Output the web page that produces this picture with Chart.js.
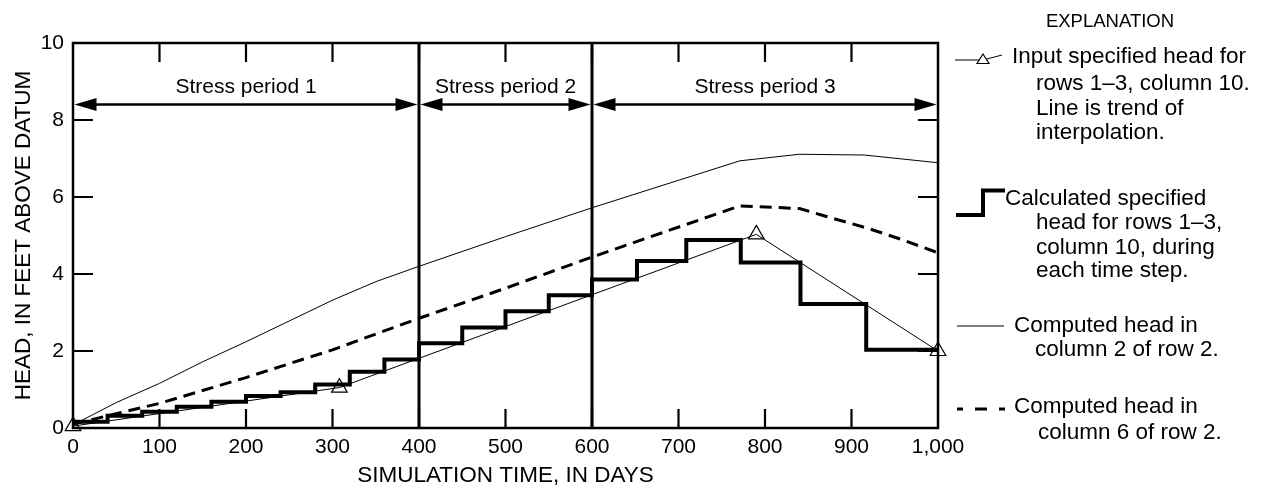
<!DOCTYPE html>
<html>
<head>
<meta charset="utf-8">
<script src="https://cdn.jsdelivr.net/npm/chart.js@4.4.1/dist/chart.umd.min.js"></script>
<style>
  html, body { margin: 0; padding: 0; background: #fff; }
  #wrap { width: 1263px; height: 495px; }
</style>
</head>
<body>
<div id="wrap"><canvas id="headChart" width="1263" height="495"></canvas></div>
<script>
// input specified head (triangles), joined by the trend line
const inputDays = [0, 308, 790, 1000];
const inputHead = [0.05, 1.05, 5.03, 2.0];

// calculated specified head, one value per time step (held until next time)
const stepDays = [0, 40, 80, 120, 160, 200, 240, 280, 320, 360, 400, 450, 500, 550, 600, 652, 709, 772, 841, 917, 1000];
const stepHead = [0.16, 0.32, 0.42, 0.55, 0.68, 0.83, 0.93, 1.13, 1.46, 1.78, 2.2, 2.61, 3.03, 3.45, 3.86, 4.34, 4.88, 4.3, 3.22, 2.03, 2.03];

// computed head, column 2 of row 2
const col2Days = [0, 50, 100, 150, 200, 250, 300, 350, 400, 500, 600, 771, 840, 915, 1000];
const col2Head = [0.08, 0.66, 1.16, 1.72, 2.24, 2.78, 3.32, 3.8, 4.2, 4.97, 5.72, 6.94, 7.11, 7.09, 6.89];

// computed head, column 6 of row 2
const col6Days = [0, 100, 200, 300, 400, 500, 600, 771, 840, 870, 920, 960, 1000];
const col6Head = [0.1, 0.64, 1.31, 2.03, 2.85, 3.63, 4.44, 5.77, 5.7, 5.5, 5.18, 4.88, 4.55];

const periodBounds = [0, 400, 600, 1000];
const periodLabels = ['Stress period 1', 'Stress period 2', 'Stress period 3'];
const xMinorTicks = [100, 200, 300, 400, 500, 600, 700, 800, 900];
const yMinorTicks = [2, 4, 6, 8];

const FONT = '"Liberation Sans", Arial, Helvetica, sans-serif';
Chart.defaults.font.family = FONT;
Chart.defaults.color = '#000';

const pts = (xs, ys) => xs.map((x, i) => ({ x, y: ys[i] }));

function arrowHead(ctx, tipX, y, dir) {
  ctx.beginPath();
  ctx.moveTo(tipX, y);
  ctx.lineTo(tipX + dir * 22, y - 6.5);
  ctx.lineTo(tipX + dir * 22, y + 6.5);
  ctx.closePath();
  ctx.fill();
}

function legendText(ctx, lines) {
  lines.forEach(([t, x, y]) => ctx.fillText(t, x, y));
}

const overlay = {
  id: 'overlay',
  afterDatasetsDraw(chart) {
    const { ctx, chartArea: a, scales: { x, y } } = chart;
    ctx.save();
    ctx.strokeStyle = '#000';
    ctx.fillStyle = '#000';

    // inward ticks on all four sides
    ctx.lineWidth = 2.2;
    ctx.beginPath();
    xMinorTicks.forEach((v) => {
      const px = x.getPixelForValue(v);
      ctx.moveTo(px, a.bottom); ctx.lineTo(px, a.bottom - 19);
      ctx.moveTo(px, a.top); ctx.lineTo(px, a.top + 19);
    });
    yMinorTicks.forEach((v) => {
      const py = y.getPixelForValue(v);
      ctx.moveTo(a.left, py); ctx.lineTo(a.left + 20, py);
      ctx.moveTo(a.right, py); ctx.lineTo(a.right - 20, py);
    });
    ctx.stroke();

    ctx.lineWidth = 2.5;
    ctx.strokeRect(a.left, a.top, a.right - a.left, a.bottom - a.top);

    // stress period boundaries
    ctx.lineWidth = 3;
    ctx.beginPath();
    periodBounds.slice(1, -1).forEach((v) => {
      const px = x.getPixelForValue(v);
      ctx.moveTo(px, a.top); ctx.lineTo(px, a.bottom);
    });
    ctx.stroke();

    // double arrows + labels
    const ay = y.getPixelForValue(8.4);
    ctx.font = `21px ${FONT}`;
    ctx.textAlign = 'center';
    ctx.textBaseline = 'alphabetic';
    ctx.lineWidth = 2.5;
    for (let i = 0; i < periodLabels.length; i++) {
      const x0 = x.getPixelForValue(periodBounds[i]) + 1.5;
      const x1 = x.getPixelForValue(periodBounds[i + 1]) - 1.5;
      ctx.beginPath();
      ctx.moveTo(x0 + 10, ay); ctx.lineTo(x1 - 10, ay);
      ctx.stroke();
      arrowHead(ctx, x0, ay, 1);
      arrowHead(ctx, x1, ay, -1);
      ctx.fillText(periodLabels[i], (x0 + x1) / 2, ay - 12);
    }

    // explanation
    ctx.font = `18.5px ${FONT}`;
    ctx.fillText('EXPLANATION', 1110, 27);
    ctx.textAlign = 'left';
    ctx.font = `22.5px ${FONT}`;
    legendText(ctx, [
      ['Input specified head for', 1012, 63],
      ['rows 1\u20133, column 10.', 1036, 90],
      ['Line is trend of', 1036, 115],
      ['interpolation.', 1036, 139],
      ['Calculated specified', 1005, 205],
      ['head for rows 1\u20133,', 1036, 229],
      ['column 10, during', 1036, 254],
      ['each time step.', 1036, 277],
      ['Computed head in', 1014, 332],
      ['column 2 of row 2.', 1035, 356],
      ['Computed head in', 1014, 413],
      ['column 6 of row 2.', 1038, 439]
    ]);

    // legend symbols
    ctx.lineWidth = 1;
    ctx.beginPath();
    ctx.moveTo(955, 60); ctx.lineTo(983, 60); ctx.lineTo(1002, 55);
    ctx.stroke();
    ctx.beginPath();
    ctx.moveTo(983, 54); ctx.lineTo(989, 63.5); ctx.lineTo(977, 63.5); ctx.closePath();
    ctx.fillStyle = '#fff'; ctx.fill();
    ctx.lineWidth = 1.2; ctx.stroke();
    ctx.fillStyle = '#000';

    ctx.lineWidth = 4;
    ctx.beginPath();
    ctx.moveTo(956, 215); ctx.lineTo(983, 215); ctx.lineTo(983, 190.5); ctx.lineTo(1005, 190.5);
    ctx.stroke();

    ctx.lineWidth = 1;
    ctx.beginPath();
    ctx.moveTo(957, 326); ctx.lineTo(1004, 326);
    ctx.stroke();

    ctx.lineWidth = 3;
    ctx.setLineDash([12, 12]);
    ctx.lineDashOffset = 6;
    ctx.beginPath();
    ctx.moveTo(957, 409); ctx.lineTo(1005, 409);
    ctx.stroke();
    ctx.restore();
  }
};

new Chart(document.getElementById('headChart'), {
  type: 'line',
  data: {
    datasets: [
      {
        label: 'Input specified head',
        data: pts(inputDays, inputHead),
        borderColor: '#000',
        borderWidth: 1,
        pointStyle: 'triangle',
        pointRadius: 9,
        pointBackgroundColor: 'rgba(255,255,255,0)',
        pointBorderColor: '#000',
        pointBorderWidth: 1.2,
        clip: false
      },
      {
        label: 'Calculated specified head',
        data: pts(stepDays, stepHead),
        stepped: 'before',
        borderColor: '#000',
        borderWidth: 4,
        pointRadius: 0,
        borderCapStyle: 'butt',
        borderJoinStyle: 'miter'
      },
      {
        label: 'Computed head, column 2',
        data: pts(col2Days, col2Head),
        borderColor: '#000',
        borderWidth: 1,
        pointRadius: 0
      },
      {
        label: 'Computed head, column 6',
        data: pts(col6Days, col6Head),
        borderColor: '#000',
        borderWidth: 3,
        borderDash: [12, 7],
        pointRadius: 0
      }
    ]
  },
  options: {
    responsive: false,
    animation: false,
    devicePixelRatio: 1,
    layout: { padding: { left: 0, right: 325, top: 43, bottom: 0 } },
    plugins: { legend: { display: false }, tooltip: { enabled: false } },
    elements: { line: { tension: 0 } },
    scales: {
      x: {
        type: 'linear',
        min: 0,
        max: 1000,
        afterFit: (s) => { s.height = 67; },
        grid: { display: false, drawTicks: false },
        border: { display: false },
        ticks: { stepSize: 100, padding: 7, maxRotation: 0, font: { size: 21 }, callback: (v) => v.toLocaleString('en-US') },
        title: { display: true, text: 'SIMULATION TIME, IN DAYS', font: { size: 22.5 }, padding: { top: 0, bottom: 6 } }
      },
      y: {
        type: 'linear',
        min: 0,
        max: 10,
        afterFit: (s) => { s.width = 73; },
        grid: { display: false, drawTicks: false },
        border: { display: false },
        ticks: { stepSize: 2, padding: 9, font: { size: 21 } },
        title: { display: true, text: 'HEAD, IN FEET ABOVE DATUM', font: { size: 22.5 }, padding: { top: 10, bottom: 0 } }
      }
    }
  },
  plugins: [overlay]
});
</script>
</body>
</html>
